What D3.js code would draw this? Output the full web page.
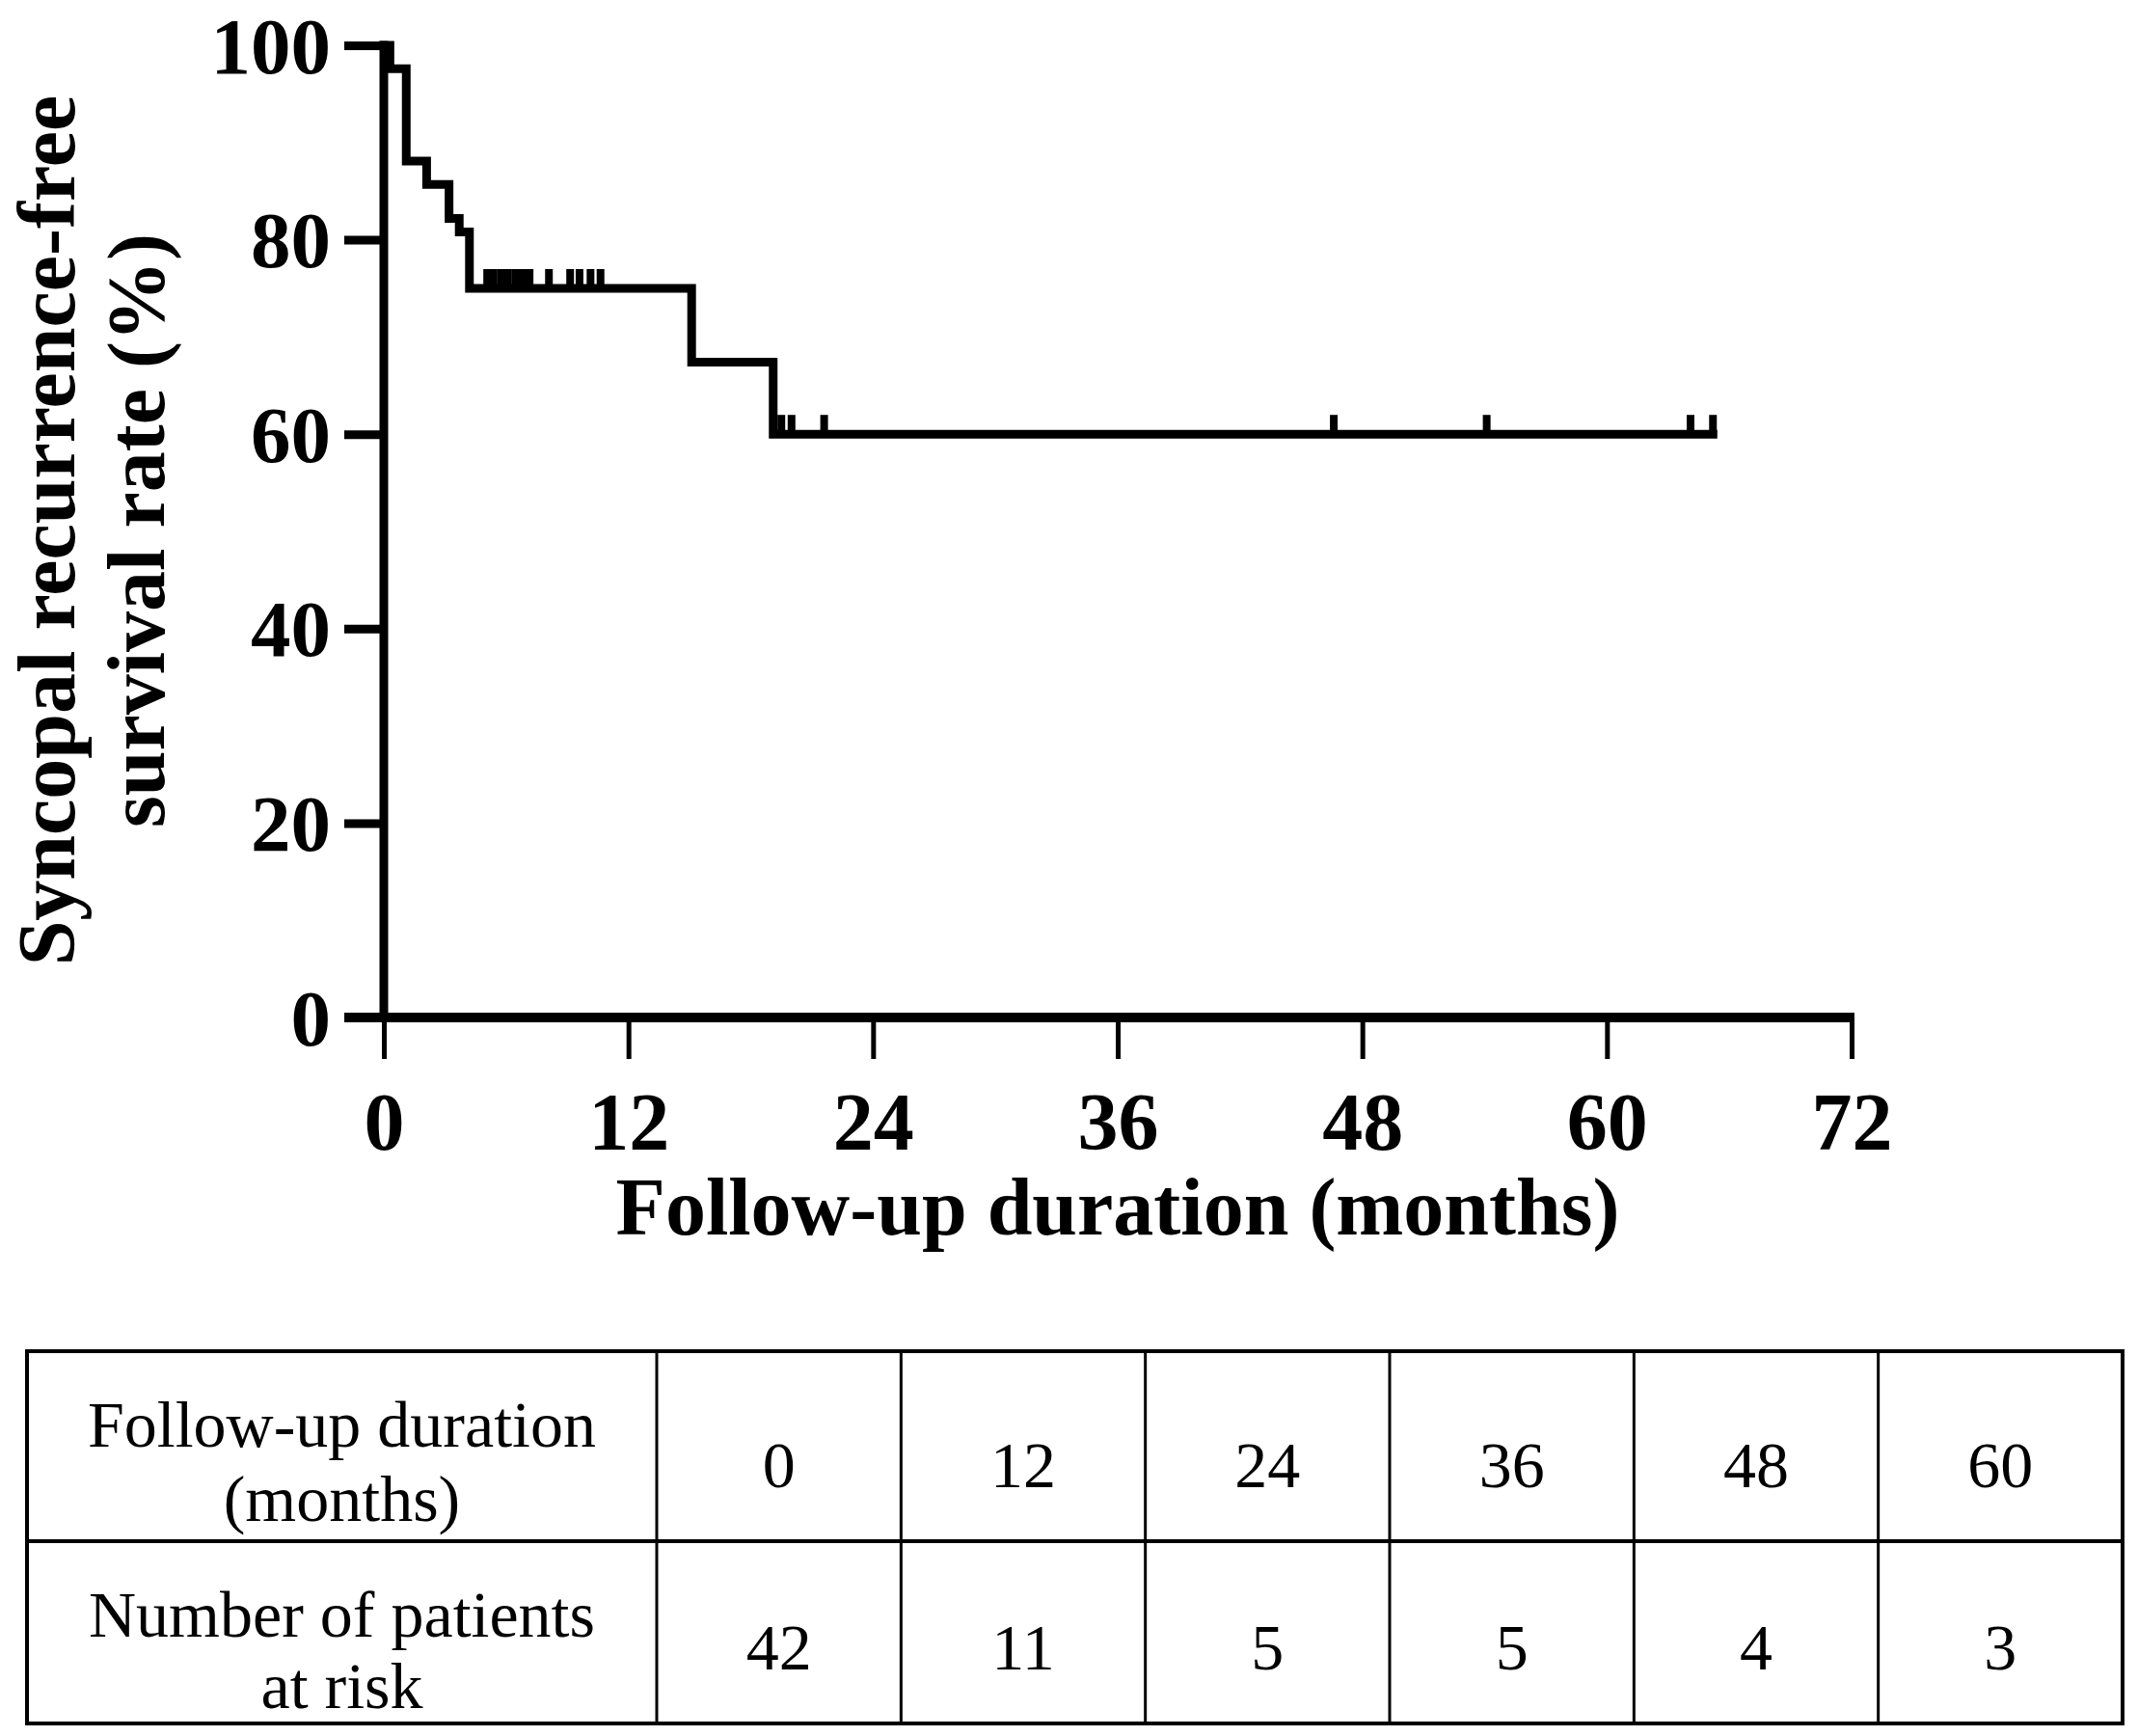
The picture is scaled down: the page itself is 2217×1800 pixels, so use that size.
<!DOCTYPE html>
<html>
<head>
<meta charset="utf-8">
<script src="https://cdn.jsdelivr.net/npm/d3@7"></script>
<style>
  body { margin: 0; background: #fff; }
  text { font-family: "Liberation Serif", "Times New Roman", serif; fill: #000; }
</style>
</head>
<body>
<div id="chart"></div>
<script>
// Kaplan-Meier steps (months, survival %)
const stepTimes = [0, 0.3, 1.1, 2.1, 3.2, 3.7, 4.2, 15.1, 19.1, 65.2];
const stepSurv  = [100, 97.6, 88.1, 85.7, 82.2, 80.8, 75.0, 67.4, 60.0, 60.0];
// censored observations (months)
const censorTimes = [5.07, 5.35, 5.73, 6.06, 6.44, 6.63, 7.0, 7.15, 8.1, 9.14, 9.6, 10.14, 10.63,
                     19.5, 20.0, 21.6, 46.6, 54.1, 64.1, 65.2];

const xTicks = [0, 12, 24, 36, 48, 60, 72];
const yTicks = [0, 20, 40, 60, 80, 100];

// number-at-risk table
const tableMonths = [0, 12, 24, 36, 48, 60];
const atRisk = [42, 11, 5, 5, 4, 3];
const rowLabels = [["Follow-up duration", "(months)"], ["Number of patients", "at risk"]];

const W = 2217, H = 1800;
const svg = d3.select("#chart").append("svg")
    .attr("width", W)
    .attr("height", H);

svg.append("rect").attr("width", W).attr("height", H).attr("fill", "#fff");

let x = d3.scaleLinear().domain([0, 72]).range([398, 1920]);
let y = d3.scaleLinear().domain([0, 100]).range([1055, 47]);

// y axis
let yAxis = svg.append("g")
    .attr("transform", `translate(${x(0)}, 0)`)
    .call(d3.axisLeft(y).tickValues(yTicks).tickSize(41).tickSizeOuter(0).tickPadding(14));
yAxis.select(".domain").remove();
yAxis.selectAll(".tick line").attr("stroke", "#000").attr("stroke-width", 9);
yAxis.selectAll(".tick text")
    .attr("dy", null)
    .attr("y", 28)
    .style("font-size", "83px")
    .style("font-weight", "bold");

// x axis
let xAxis = svg.append("g")
    .attr("transform", `translate(0, ${y(0)})`)
    .call(d3.axisBottom(x).tickValues(xTicks).tickSize(43).tickSizeOuter(0));
xAxis.select(".domain").remove();
xAxis.selectAll(".tick line").attr("stroke", "#000").attr("stroke-width", 5);
xAxis.selectAll(".tick text")
    .attr("dy", null)
    .attr("y", 137)
    .style("font-size", "84px")
    .style("font-weight", "bold");

// axis lines
svg.append("line")
    .attr("x1", x(0)).attr("x2", x(0))
    .attr("y1", y(0) + 5).attr("y2", y(100) - 4.5)
    .attr("stroke", "#000").attr("stroke-width", 9);
svg.append("line")
    .attr("x1", x(0) - 41).attr("x2", x(72) + 3)
    .attr("y1", y(0)).attr("y2", y(0))
    .attr("stroke", "#000").attr("stroke-width", 10);

// survival curve
let pts = stepTimes.map((t, i) => [t, stepSurv[i]]);
let line = d3.line()
    .x(d => x(d[0]))
    .y(d => y(d[1]))
    .curve(d3.curveStepAfter);
svg.append("path")
    .attr("d", line(pts))
    .attr("fill", "none")
    .attr("stroke", "#000")
    .attr("stroke-width", 9)
    .attr("stroke-linejoin", "miter")
    .attr("stroke-linecap", "square");

// censor marks
function survAt(t) {
    let i = d3.bisectRight(stepTimes, t) - 1;
    return stepSurv[Math.max(0, i)];
}
svg.selectAll(".censor")
    .data(censorTimes)
    .enter()
    .append("line")
    .attr("class", "censor")
    .attr("x1", d => x(d)).attr("x2", d => x(d))
    .attr("y1", d => y(survAt(d)))
    .attr("y2", d => y(survAt(d)) - 20)
    .attr("stroke", "#000")
    .attr("stroke-width", 8);

// axis titles
let yTitle = ["Syncopal recurrence-free", "survival rate (%)"];
svg.selectAll(".ytitle")
    .data(yTitle)
    .enter()
    .append("text")
    .attr("class", "ytitle")
    .attr("transform", (d, i) => `translate(${77 + i * 93}, 550) rotate(-90)`)
    .attr("text-anchor", "middle")
    .style("font-size", "84px")
    .style("font-weight", "bold")
    .text(d => d);

svg.append("text")
    .attr("x", (x(0) + x(72)) / 2)
    .attr("y", 1280)
    .attr("text-anchor", "middle")
    .style("font-size", "84px")
    .style("font-weight", "bold")
    .text("Follow-up duration (months)");

// table
let tLeft = 28, tRight = 2201, tTop = 1401, tMid = 1598, tBottom = 1787;
let col = d3.scaleBand().domain(tableMonths).range([681, tRight]);
let tbl = svg.append("g");

tbl.append("rect")
    .attr("x", tLeft).attr("y", tTop)
    .attr("width", tRight - tLeft).attr("height", tBottom - tTop)
    .attr("fill", "none").attr("stroke", "#000").attr("stroke-width", 4);
tbl.append("line")
    .attr("x1", tLeft).attr("x2", tRight)
    .attr("y1", tMid).attr("y2", tMid)
    .attr("stroke", "#000").attr("stroke-width", 4);
tbl.selectAll(".vline")
    .data(tableMonths)
    .enter()
    .append("line")
    .attr("class", "vline")
    .attr("x1", d => col(d)).attr("x2", d => col(d))
    .attr("y1", tTop).attr("y2", tBottom)
    .attr("stroke", "#000").attr("stroke-width", 3);

let firstCx = (tLeft + col(0)) / 2;
let labelBase = [[1500, 1577], [1697, 1771]];
rowLabels.forEach((lines, r) => {
    tbl.selectAll(".lab" + r)
        .data(lines)
        .enter()
        .append("text")
        .attr("x", firstCx)
        .attr("y", (d, i) => labelBase[r][i])
        .attr("text-anchor", "middle")
        .style("font-size", "68px")
        .text(d => d);
});

let rowVals = [tableMonths, atRisk];
let valBase = [1542, 1731];
rowVals.forEach((vals, r) => {
    tbl.selectAll(".val" + r)
        .data(vals)
        .enter()
        .append("text")
        .attr("x", (d, i) => col(tableMonths[i]) + col.bandwidth() / 2)
        .attr("y", valBase[r])
        .attr("text-anchor", "middle")
        .style("font-size", "68px")
        .text(d => d);
});
</script>
</body>
</html>
